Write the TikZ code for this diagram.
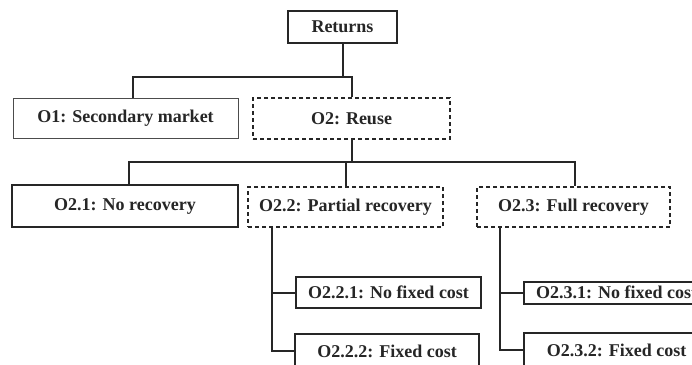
\documentclass[tikz,border=0pt]{standalone}
\usepackage{fontspec}
\setmainfont{Liberation Serif}
\begin{document}
\begin{tikzpicture}[x=1pt,y=-1pt,
  ink/.style={draw=black!85},
  box/.style={ink, line width=2pt, fill=white, text=black!85, inner sep=0pt,
    font=\fontsize{18}{20}\selectfont\bfseries},
  thinbox/.style={box, line width=1pt, draw=black!70},
  dashbox/.style={box, dash pattern=on 4pt off 3pt},
  conn/.style={ink, line width=2pt}]
\clip (0,0) rectangle (692,364);
\useasboundingbox (0,0) rectangle (692,364);

% tree nodes
\node[box, minimum width=109, minimum height=32] (ret) at (342.5,27) {Returns};
\node[thinbox, minimum width=225, minimum height=40] (o1) at (125.5,118) {O1: Secondary market};
\node[dashbox, minimum width=197, minimum height=41] (o2) at (351.5,118.5) {O2: Reuse};
\node[box, minimum width=226, minimum height=42] (o21) at (125,206) {O2.1: No recovery};
\node[dashbox, minimum width=195, minimum height=40] (o22) at (345.5,207) {O2.2: Partial recovery};
\node[dashbox, minimum width=193, minimum height=40] (o23) at (573.5,207) {O2.3: Full recovery};
\node[box, minimum width=185, minimum height=31] (o221) at (388.5,292.5) {O2.2.1: No fixed cost};
\node[box, minimum width=184, minimum height=34] (o222) at (387,351) {O2.2.2: Fixed cost};
\node[box, minimum width=185, minimum height=22, anchor=west] (o231) at (523,292.5) {O2.3.1: No fixed cost};
\node[box, minimum width=185, minimum height=34, anchor=west] (o232) at (523,350) {O2.3.2: Fixed cost};

% bus levels
\coordinate (b1) at (0,77);
\coordinate (b2) at (0,162);

% Returns -> O1, O2
\draw[conn] (ret.south) -- (ret.south |- b1);
\coordinate (d1) at ([xshift=7.5pt]o1.north);
\draw[conn] (d1) |- (o2.north |- b1) -- (o2.north);

% O2 -> O2.1, O2.2, O2.3
\draw[conn] (o2.south) -- (o2.south |- b2);
\coordinate (d21) at ([xshift=4pt]o21.north);
\coordinate (d23) at ([xshift=1.5pt]o23.north);
\draw[conn] (d21) |- (d23 |- b2) -- (d23);
\draw[conn] (o22.north) -- (o22.north |- b2);

% O2.2 -> O2.2.1, O2.2.2
\coordinate (s22) at ([xshift=25pt]o22.south west);
\draw[conn] (s22) |- (o222.west);
\draw[conn] (s22 |- o221.west) -- (o221.west);

% O2.3 -> O2.3.1, O2.3.2
\coordinate (s23) at ([xshift=24pt]o23.south west);
\draw[conn] (s23) |- (o232.west);
\draw[conn] (s23 |- o231.west) -- (o231.west);
\end{tikzpicture}
\end{document}
